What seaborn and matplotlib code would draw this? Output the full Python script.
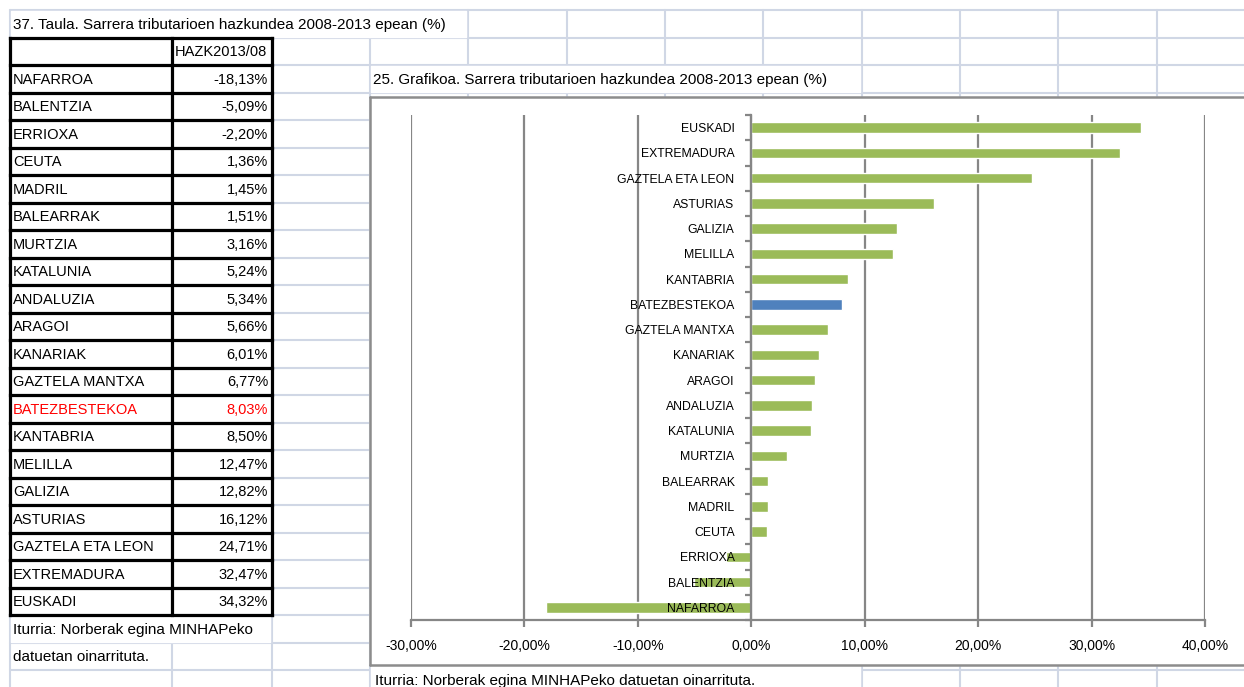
import numpy as np
import pandas as pd
import matplotlib
matplotlib.use("Agg")
import matplotlib.pyplot as plt
from matplotlib.ticker import FuncFormatter, FixedLocator
import seaborn as sns

# --- data ---
regions = ["NAFARROA", "BALENTZIA", "ERRIOXA", "CEUTA", "MADRIL", "BALEARRAK",
           "MURTZIA", "KATALUNIA", "ANDALUZIA", "ARAGOI", "KANARIAK",
           "GAZTELA MANTXA", "BATEZBESTEKOA", "KANTABRIA", "MELILLA", "GALIZIA",
           "ASTURIAS", "GAZTELA ETA LEON", "EXTREMADURA", "EUSKADI"]
values = [-18.13, -5.09, -2.20, 1.36, 1.45, 1.51, 3.16, 5.24, 5.34, 5.66, 6.01,
          6.77, 8.03, 8.50, 12.47, 12.82, 16.12, 24.71, 32.47, 34.32]
highlight = "BATEZBESTEKOA"
x_ticks = [-30, -20, -10, 0, 10, 20, 30, 40]

table_title = "37. Taula. Sarrera tributarioen hazkundea 2008-2013 epean (%)"
chart_title = "25. Grafikoa. Sarrera tributarioen hazkundea 2008-2013 epean (%)"
col_header = "HAZK2013/08"
source_1 = "Iturria: Norberak egina MINHAPeko"
source_2 = "datuetan oinarrituta."
source_chart = "Iturria: Norberak egina MINHAPeko datuetan oinarrituta."

sns.set_theme(style="white")
plt.rcParams['font.family'] = ['Liberation Sans', 'DejaVu Sans']
plt.rcParams['text.color'] = 'black'

W, H = 1244, 687
fig = plt.figure(figsize=(W / 100, H / 100), dpi=100)

# --- spreadsheet background (pixel coordinates) ---
bg = fig.add_axes([0, 0, 1, 1])
bg.set_xlim(0, W)
bg.set_ylim(H, 0)
bg.axis("off")

GRID = "#D0D7E5"
row_h = 27.5
rows = [10 + i * row_h for i in range(25)]
cols = [10, 172, 272, 370, 468, 567, 665, 763, 862, 960, 1058, 1157]

for y in rows:
    if y <= H:
        bg.plot([10, W], [y, y], color=GRID, lw=1.5, zorder=1)
for x in cols:
    bg.plot([x, x], [10, H], color=GRID, lw=1.5, zorder=1)

# hide gridlines under overflowing text (like Excel does)
bg.fill_between([11, 466], 11, 36.5, color="white", zorder=2)
bg.fill_between([371, 860], 66, 92, color="white", zorder=2)
bg.fill_between([11, 270], 616, 641.5, color="white", zorder=2)

# chart box
bg.fill_between([370, W + 5], 97, 665, color="white", zorder=3)
bg.plot([370, W + 5], [97, 97], color="#8C8C8C", lw=1.8, zorder=4)
bg.plot([370, W + 5], [665, 665], color="#8C8C8C", lw=1.8, zorder=4)
bg.plot([370, 370], [97, 665], color="#8C8C8C", lw=1.8, zorder=4)
bg.fill_between([371, 860], 666, H, color="white", zorder=2)

# table with thick borders
t_top = rows[1]
n_rows = len(regions) + 1
t_bottom = t_top + n_rows * row_h
for i in range(n_rows + 1):
    y = t_top + i * row_h
    bg.plot([10, 272], [y, y], color="black", lw=2.3, zorder=5, solid_capstyle="projecting")
for x in [10, 172, 272]:
    bg.plot([x, x], [t_top, t_bottom], color="black", lw=2.3, zorder=5, solid_capstyle="projecting")

fs_tab = 10.5
bg.text(13, rows[0] + row_h / 2 + 1, table_title, fontsize=fs_tab + 0.5, va="center", ha="left", zorder=6)
bg.text(175, t_top + row_h / 2 + 1, col_header, fontsize=fs_tab, va="center", ha="left", zorder=6)
for i, (name, v) in enumerate(zip(regions, values)):
    yc = t_top + (i + 1) * row_h + row_h / 2 + 1
    c = "#FF0000" if name == highlight else "black"
    bg.text(13, yc, name, fontsize=fs_tab, va="center", ha="left", color=c, zorder=6)
    bg.text(268, yc, f"{v:.2f}%".replace(".", ","), fontsize=fs_tab, va="center",
            ha="right", color=c, zorder=6)
bg.text(13, t_bottom + row_h / 2 + 1, source_1, fontsize=fs_tab + 0.5, va="center", zorder=6)
bg.text(13, t_bottom + 1.5 * row_h + 1, source_2, fontsize=fs_tab + 0.5, va="center", zorder=6)
bg.text(373, rows[2] + row_h / 2 + 1, chart_title, fontsize=fs_tab + 0.5, va="center", zorder=6)
bg.text(375, 681, source_chart, fontsize=fs_tab + 0.5, va="center", zorder=6)

# --- bar chart ---
left, right, top, bottom = 411, 1205, 115, 620
ax = fig.add_axes([left / W, (H - bottom) / H, (right - left) / W, (bottom - top) / H])
ax.set_facecolor("none")

df = pd.DataFrame({"region": regions, "value": values})
order = regions[::-1]
palette = {r: ("#4F81BD" if r == highlight else "#9BBB59") for r in regions}
sns.barplot(data=df, x="value", y="region", hue="region", order=order, palette=palette,
            legend=False, width=0.42, orient="h", saturation=1, ax=ax, zorder=1)

ax.set_axisbelow(False)
ax.set_xlim(-30, 40)
ax.set_ylim(len(regions) - 0.5, -0.5)
for xv in x_ticks:
    ax.axvline(xv, color="#868686", lw=1.6, zorder=0.5)

ax.xaxis.set_major_locator(FixedLocator(x_ticks))
ax.xaxis.set_major_formatter(FuncFormatter(lambda v, p: f"{v:.2f}%".replace(".", ",")))
ax.tick_params(axis="x", direction="out", length=5, width=1.6, color="#868686",
               labelsize=10, labelcolor="black", pad=9, bottom=True)

ax.spines["left"].set_position(("data", 0))
for s in ["top", "right"]:
    ax.spines[s].set_visible(False)
for s in ["left", "bottom"]:
    ax.spines[s].set_color("#868686")
    ax.spines[s].set_linewidth(1.6)

ax.set_yticks(np.arange(-0.5, len(regions), 1.0), minor=True)
ax.tick_params(axis="y", which="minor", direction="out", length=4, width=1.6,
               color="#868686", left=True)
ax.tick_params(axis="y", which="major", length=0, labelsize=8.8, labelcolor="black", pad=12)
ax.set_xlabel("")
ax.set_ylabel("")

fig.savefig("out.png", dpi=100)
